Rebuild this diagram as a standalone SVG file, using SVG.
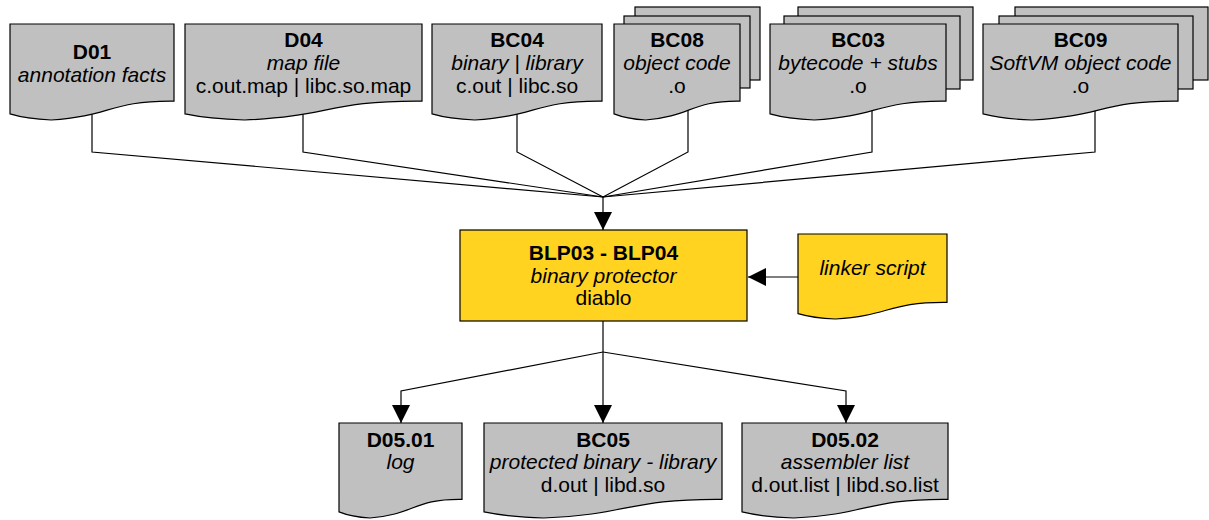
<svg xmlns="http://www.w3.org/2000/svg" width="1209" height="520" viewBox="0 0 1209 520">
<style>
  .doc { fill: #c0c0c0; stroke: #000; stroke-width: 1.2; }
  .yel { fill: #ffd320; stroke: #000; stroke-width: 1.2; }
  .con { fill: none; stroke: #000; stroke-width: 1.2; }
  text { font-family: "Liberation Sans", Arial, sans-serif; font-size: 21px; fill: #000; text-anchor: middle; }
  .b { font-weight: bold; }
  .i { font-style: italic; }
</style>
<defs>
  <marker id="arr" markerUnits="userSpaceOnUse" markerWidth="18" markerHeight="18" refX="18" refY="9" orient="auto">
    <path d="M0,0 L18,9 L0,18 Z" fill="#000"/>
  </marker>
</defs>
<rect x="0" y="0" width="1209" height="520" fill="#fff"/>
<g id="connectors">
  <polyline class="con" points="92,105 92,152 603,197"/>
  <polyline class="con" points="303,105 303,152 603,197"/>
  <polyline class="con" points="517,105 517,152 603,197"/>
  <polyline class="con" points="688,105 688,152 603,197"/>
  <polyline class="con" points="872,105 872,152 603,197"/>
  <polyline class="con" points="1095,105 1095,152 603,197"/>
  <line class="con" x1="603" y1="197" x2="603" y2="230" marker-end="url(#arr)"/>
  <line class="con" x1="798" y1="277" x2="748" y2="277" marker-end="url(#arr)"/>
  <line class="con" x1="603" y1="321" x2="603" y2="423" marker-end="url(#arr)"/>
  <polyline class="con" points="603,352 401,391 401,423" marker-end="url(#arr)"/>
  <polyline class="con" points="603,352 846,391 846,423" marker-end="url(#arr)"/>
</g>
<g id="D01">
  <path class="doc" d="M10,24 H174 V101.2 C109.1,100.5 111.4,116.4 51.2,120 C31.6,119.2 22.8,117.8 10,113.9 Z"/>
  <text x="92" y="59" class="b">D01</text>
  <text x="92" y="82" class="i">annotation facts</text>
</g>
<g id="D04">
  <path class="doc" d="M185,24 H422 V101.2 C328.1,100.5 331.5,116.4 244.5,120 C216.3,119.2 203.5,117.8 185,113.9 Z"/>
  <text x="303.5" y="47" class="b">D04</text>
  <text x="303.5" y="70" class="i">map file</text>
  <text x="303.5" y="93">c.out.map | libc.so.map</text>
</g>
<g id="BC04">
  <path class="doc" d="M432,24 H602 V101.2 C534.7,100.5 537.1,116.4 474.7,120 C454.4,119.2 445.3,117.8 432,113.9 Z"/>
  <text x="517" y="47" class="b">BC04</text>
  <text x="517" y="70" class="i">binary | library</text>
  <text x="517" y="93">c.out | libc.so</text>
</g>
<g id="BC08">
  <rect class="doc" x="635" y="7" width="125" height="73"/>
  <rect class="doc" x="624" y="16" width="126" height="72"/>
  <path class="doc" d="M614,24 H740 V101.2 C690.1,100.5 691.9,116.4 645.6,120 C630.6,119.2 623.8,117.8 614,113.9 Z"/>
  <text x="677" y="47" class="b">BC08</text>
  <text x="677" y="70" class="i">object code</text>
  <text x="677" y="93">.o</text>
</g>
<g id="BC03">
  <rect class="doc" x="798" y="7" width="175" height="73"/>
  <rect class="doc" x="784" y="16" width="176" height="73"/>
  <path class="doc" d="M770,24 H946 V101.2 C876.3,100.5 878.8,116.4 814.2,120 C793.2,119.2 783.7,117.8 770,113.9 Z"/>
  <text x="858" y="47" class="b">BC03</text>
  <text x="858" y="70" class="i">bytecode + stubs</text>
  <text x="858" y="93">.o</text>
</g>
<g id="BC09">
  <rect class="doc" x="1015" y="7" width="193" height="73"/>
  <rect class="doc" x="999" y="16" width="194" height="73"/>
  <path class="doc" d="M983,24 H1178 V101.2 C1100.8,100.5 1103.5,116.4 1031.9,120 C1008.7,119.2 998.2,117.8 983,113.9 Z"/>
  <text x="1080.5" y="47" class="b">BC09</text>
  <text x="1080.5" y="70" class="i">SoftVM object code</text>
  <text x="1080.5" y="93">.o</text>
</g>
<g id="BLP03">
  <rect class="yel" x="460" y="230" width="287" height="91"/>
  <text x="603.5" y="260" class="b">BLP03 - BLP04</text>
  <text x="603.5" y="282.5" class="i">binary protector</text>
  <text x="603.5" y="305">diablo</text>
</g>
<g id="linker">
  <path class="yel" d="M798,234 H947 V302.3 C888,301.7 890.1,315.8 835.4,319 C817.7,318.3 809.6,317 798,313.6 Z"/>
  <text x="872.5" y="275" class="i">linker script</text>
</g>
<g id="D05_01">
  <path class="doc" d="M339,423 H462 V499.4 C413.3,498.7 415,514.4 369.9,518 C355.2,517.2 348.6,515.8 339,511.9 Z"/>
  <text x="400.5" y="447" class="b">D05.01</text>
  <text x="400.5" y="469" class="i">log</text>
</g>
<g id="BC05">
  <path class="doc" d="M484,423 H722 V499.4 C627.8,498.7 631.1,514.4 543.7,518 C515.4,517.2 502.6,515.8 484,511.9 Z"/>
  <text x="603" y="447" class="b">BC05</text>
  <text x="603" y="469" class="i">protected binary - library</text>
  <text x="603" y="492">d.out | libd.so</text>
</g>
<g id="D05_02">
  <path class="doc" d="M742,423 H948 V499.4 C866.4,498.7 869.3,514.4 793.7,518 C769.2,517.2 758.1,515.8 742,511.9 Z"/>
  <text x="845" y="447" class="b">D05.02</text>
  <text x="845" y="469" class="i">assembler list</text>
  <text x="845" y="492">d.out.list | libd.so.list</text>
</g>
</svg>
